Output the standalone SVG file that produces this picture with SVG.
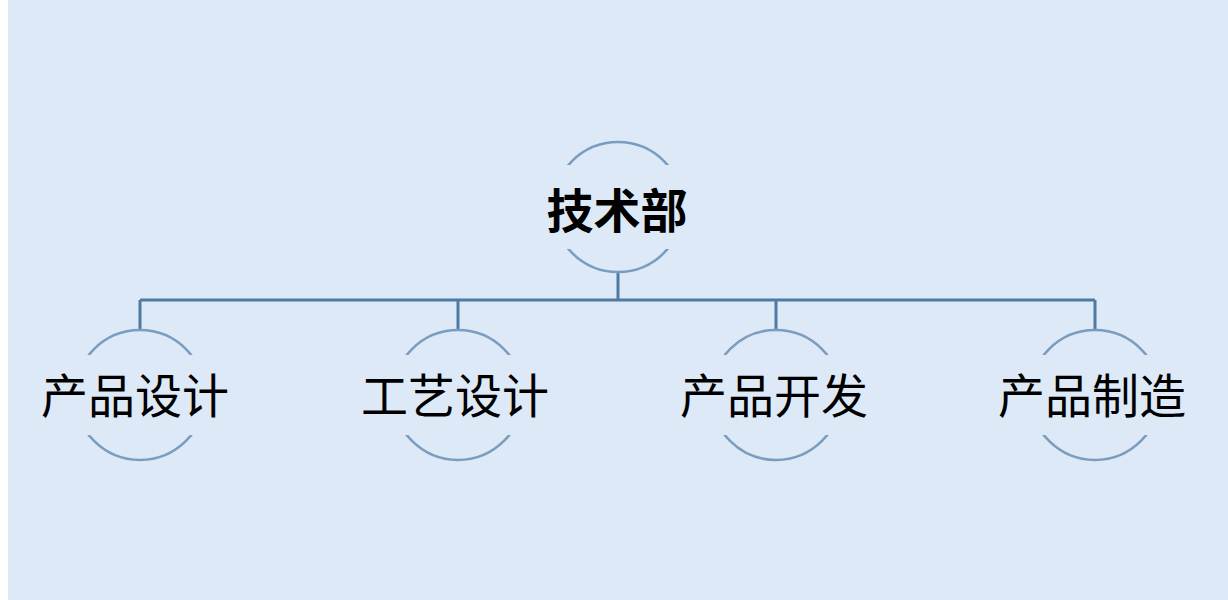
<svg xmlns="http://www.w3.org/2000/svg" width="1228" height="600" viewBox="0 0 1228 600">
<style>
.c{fill:none;stroke:#7a9cc0;stroke-width:2.5}
.m{fill:#dde9f6}
.t{font-family:"Noto Sans CJK SC","Noto Sans",sans-serif;font-size:47px;fill:#000;text-anchor:middle}
.l{fill:none;stroke:#4f7aa6;stroke-width:3}
</style>
<rect width="1228" height="600" fill="#fff"/>
<rect x="8" y="0" width="1220" height="600" fill="#dde9f6"/>
<g id="connectors">
<path class="l" d="M618 272V300M140 300H1095M140 300V330M458 300V330M776 300V330M1095 300V330"/>
</g>
<g id="n0"><circle class="c" cx="618" cy="207" r="65"/><rect class="m" x="535" y="165" width="166" height="84"/><text class="t" x="617" y="228" font-weight="bold">技术部</text></g>
<g id="n1"><circle class="c" cx="140" cy="395" r="65"/><rect class="m" x="30" y="355" width="220" height="80"/><text class="t" x="135" y="413">产品设计</text></g>
<g id="n2"><circle class="c" cx="458" cy="395" r="65"/><rect class="m" x="348" y="355" width="220" height="80"/><text class="t" x="455" y="413">工艺设计</text></g>
<g id="n3"><circle class="c" cx="776" cy="395" r="65"/><rect class="m" x="666" y="355" width="220" height="80"/><text class="t" x="774" y="413">产品开发</text></g>
<g id="n4"><circle class="c" cx="1095" cy="395" r="65"/><rect class="m" x="985" y="355" width="220" height="80"/><text class="t" x="1092" y="413">产品制造</text></g>
</svg>
